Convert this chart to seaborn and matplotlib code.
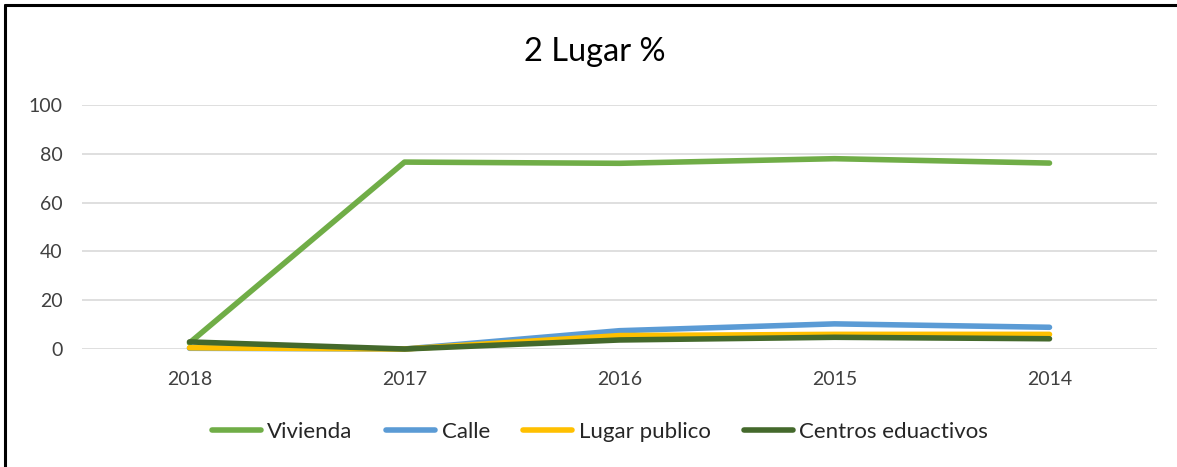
import matplotlib
matplotlib.use("Agg")
import matplotlib.pyplot as plt
import seaborn as sns
import pandas as pd
from matplotlib.lines import Line2D

years = ["2018", "2017", "2016", "2015", "2014"]
vivienda = [2.5, 76.6, 76.1, 78.0, 76.2]
calle = [0.3, 0.0, 7.5, 10.3, 8.9]
lugar_publico = [0.5, 0.0, 5.5, 6.0, 6.0]
centros = [2.9, 0.0, 3.7, 4.8, 4.2]

series_names = ["Vivienda", "Calle", "Lugar publico", "Centros eduactivos"]
colors = ["#70AD47", "#5B9BD5", "#FFC000", "#44692C"]

rows = []
for name, vals in zip(series_names, [vivienda, calle, lugar_publico, centros]):
    for i, (y, v) in enumerate(zip(years, vals)):
        rows.append({"pos": i, "year": y, "value": v, "serie": name})
df = pd.DataFrame(rows)

sns.set_theme(style="white")
plt.rcParams["font.family"] = ["Lato", "DejaVu Sans"]

fig = plt.figure(figsize=(11.77, 4.67), dpi=100)
ax = fig.add_axes([82/1177, 1-349/467, (1157-82)/1177, (349-105)/467])

sns.lineplot(data=df, x="pos", y="value", hue="serie", hue_order=series_names,
             palette=colors, linewidth=4, ax=ax, legend=False, sort=False,
             solid_capstyle="round", solid_joinstyle="round")
for ln in ax.lines:
    ln.set_clip_on(False)

ax.set_xlim(-0.5, 4.5)
ax.set_ylim(0, 100)
ax.set_yticks([0, 20, 40, 60, 80, 100])
ax.set_xticks(range(len(years)))
ax.set_xticklabels(years)
ax.yaxis.grid(True, color="#D9D9D9", linewidth=1.2)
ax.set_axisbelow(True)
for s in ax.spines.values():
    s.set_visible(False)
ax.tick_params(axis="both", labelsize=14, colors="#404040", length=0)
ax.tick_params(axis="x", pad=16)
ax.tick_params(axis="y", pad=14)
ax.set_xlabel("")
ax.set_ylabel("")

fig.text(595/1177, 1-52/467, "2 Lugar %", ha="center", va="center", fontsize=23.5, color="#000000")

handles = [Line2D([0], [0], color=c, linewidth=4, solid_capstyle="round") for c in colors]
fig.legend(handles, series_names, loc="center", bbox_to_anchor=(600/1177, 1-432/467),
           ncol=4, frameon=False, fontsize=16, handlelength=2.2, handletextpad=0.3,
           columnspacing=1.5, labelcolor="#262626")

# partial frame: top and left
fig.add_artist(Line2D([5/1177, 1.0], [1-5/467, 1-5/467], color="black", linewidth=2.2, transform=fig.transFigure))
fig.add_artist(Line2D([5/1177, 5/1177], [0, 1-5/467], color="black", linewidth=2.2, transform=fig.transFigure))

fig.savefig("out.png", dpi=100)
